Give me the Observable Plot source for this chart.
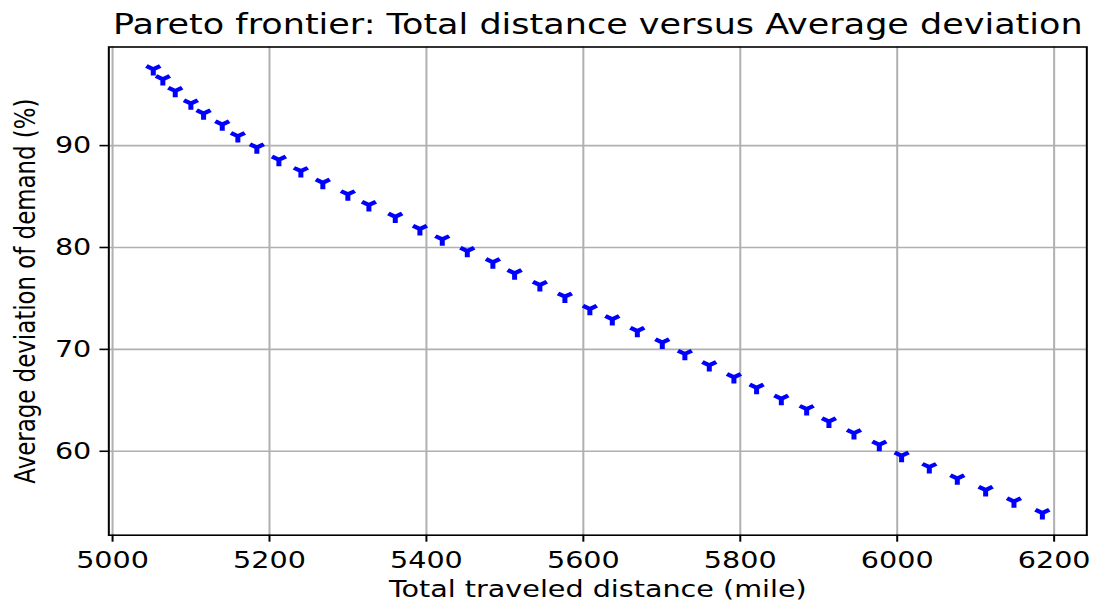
<!DOCTYPE html>
<html><head><meta charset="utf-8">
<script src="https://cdn.jsdelivr.net/npm/d3@7"></script>
<script src="https://cdn.jsdelivr.net/npm/@observablehq/plot@0.6"></script>
<style>body{margin:0;background:#fff;} #chart svg{display:block;}</style>
</head><body><div id="chart"></div>
<script>
const distance = [5051.9,5064.1,5079.9,5099.8,5116.0,5139.8,5159.7,5183.9,5212.0,5240.0,
  5268.0,5299.9,5326.7,5360.3,5391.7,5420.2,5452.1,5484.7,5512.4,5544.6,
  5576.5,5608.3,5636.9,5668.8,5700.6,5729.4,5760.5,5791.9,5820.8,5852.3,
  5884.6,5913.0,5944.9,5977.2,6005.6,6040.9,6076.6,6112.7,6148.8,6185.0];
const deviation = [97.50,96.52,95.37,94.14,93.16,92.08,90.93,89.82,88.61,87.50,
  86.35,85.22,84.17,83.02,81.81,80.80,79.66,78.55,77.47,76.32,
  75.18,73.97,72.96,71.81,70.67,69.56,68.45,67.27,66.23,65.15,
  64.14,62.92,61.78,60.64,59.56,58.45,57.33,56.20,55.08,53.94];
const xTicks = [5000,5200,5400,5600,5800,6000,6200];
const yTicks = [60,70,80,90];
const title = "Pareto frontier: Total distance versus Average deviation";
const xLabel = "Total traveled distance (mile)";
const yLabel = "Average deviation of demand (%)";

const S = 1.25, W = 1096, H = 603;
const Wu = W / S;
const data = distance.map((d, i) => ({distance: d, deviation: deviation[i]}));
const pad = (a) => { const [lo, hi] = d3.extent(a); const m = (hi - lo) * 0.05; return [lo - m, hi + m]; };

const triDown = {
  draw(ctx, size) {
    const r = Math.sqrt(size / Math.PI);
    ctx.moveTo(0, 0); ctx.lineTo(0, r);
    ctx.moveTo(0, 0); ctx.lineTo(-0.866 * r, -0.5 * r);
    ctx.moveTo(0, 0); ctx.lineTo(0.866 * r, -0.5 * r);
  }
};

const FS = 22.9;
const chart = Plot.plot({
  width: Wu, height: H,
  marginLeft: 108.2 / S, marginRight: (W - 1086.2) / S,
  marginTop: 46.5, marginBottom: H - 534.7,
  style: {fontFamily: "DejaVu Sans", background: "#fff", color: "#000"},
  x: {domain: pad(distance)},
  y: {domain: pad(deviation)},
  marks: [
    Plot.gridX(xTicks, {stroke: "#b0b0b0", strokeOpacity: 1, strokeWidth: 1.6}),
    Plot.gridY(yTicks, {stroke: "#b0b0b0", strokeOpacity: 1, strokeWidth: 1.6}),
    Plot.dot(data, {x: "distance", y: "deviation", symbol: triDown, r: 6.4, stroke: "#0000ff", fill: "none", strokeWidth: 4}),
    Plot.frame({stroke: "#000", strokeWidth: 1.6}),
    Plot.axisX(xTicks, {tickSize: 7, tickPadding: 10, fontSize: FS, label: null, tickFormat: d => String(d), stroke: "#000", strokeWidth: 1.6}),
    Plot.axisY(yTicks, {tickSize: 7, tickPadding: 7, fontSize: FS, label: null, tickFormat: d => String(d), stroke: "#000", strokeWidth: 1.6}),
    Plot.text([title], {text: d => d, frameAnchor: "top", dy: -13, lineAnchor: "bottom", fontSize: 28, fill: "#000"}),
    Plot.text([xLabel], {text: d => d, frameAnchor: "bottom", dy: 62, lineAnchor: "bottom", fontSize: FS, fill: "#000"}),
    Plot.text([yLabel], {text: d => d, frameAnchor: "left", textAnchor: "middle", rotate: -90, dx: 27.5 - 108.2 / S, lineAnchor: "bottom", fontSize: FS, fill: "#000"})
  ]
});
chart.setAttribute("preserveAspectRatio", "none");
chart.style.width = W + "px";
chart.style.height = H + "px";
chart.setAttribute("width", W);
document.getElementById("chart").appendChild(chart);
</script></body></html>
